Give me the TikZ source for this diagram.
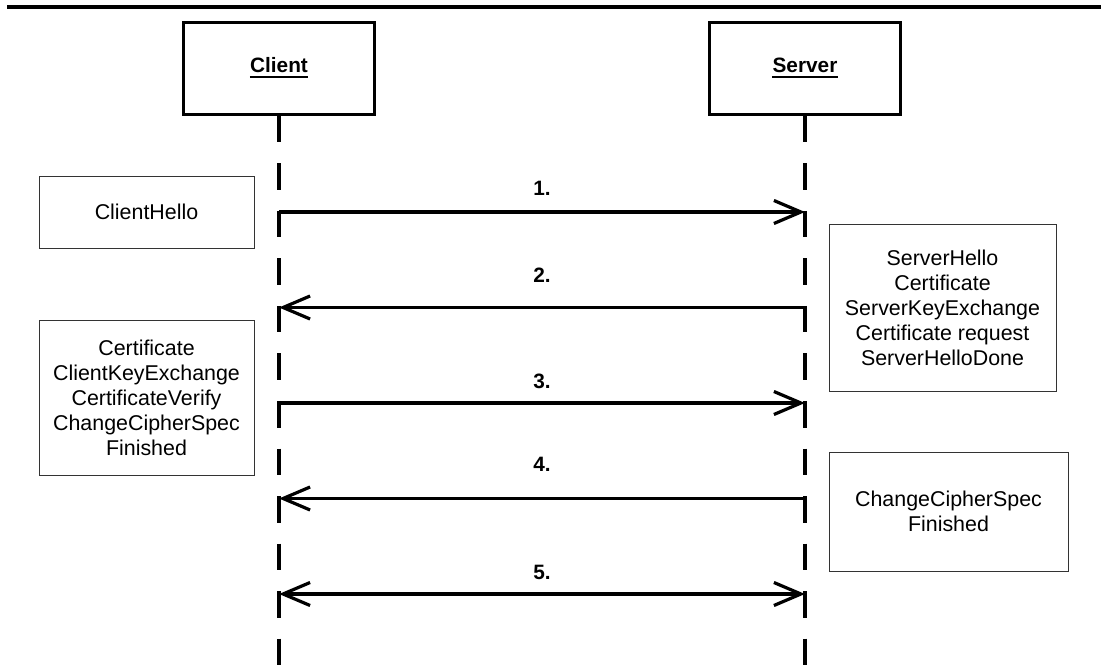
\documentclass[tikz,border=0pt]{standalone}
\usepackage{fontspec}
\setmainfont{Liberation Sans}
\usetikzlibrary{arrows.meta}
\begin{document}
\begin{tikzpicture}[x=1pt,y=-1pt,
  actor/.style={draw,line width=3pt,minimum width=191pt,minimum height=92pt,inner sep=0pt},
  actorname/.style={anchor=base,font=\fontsize{20.8}{24}\selectfont\bfseries,inner sep=0pt},
  msgbox/.style={draw=black!80,line width=0.9pt,inner sep=0pt,align=center,
    font=\fontsize{21.4}{25}\selectfont},
  lifeline/.style={line width=3.2pt,dash pattern=on 26.5pt off 21pt},
  msg/.style={line width=3.2pt,-{Straight Barb[length=27pt,width=23pt,line width=3.2pt]}},
  msgboth/.style={line width=3.2pt,{Straight Barb[length=27pt,width=23pt,line width=3.2pt]}-{Straight Barb[length=27pt,width=23pt,line width=3.2pt]}},
  step label/.style={font=\fontsize{20.8}{24}\selectfont\bfseries,inner sep=0pt}]
\useasboundingbox (0,0) rectangle (1101,668);

% header rule
\coordinate (ruleL) at (7,7);
\coordinate (ruleR) at (1101,7);
\draw[line width=4pt] (ruleL) -- (ruleR);

% participants
\node[actor] (client) at (279,68.5) {};
\node[actor] (server) at (805,68.5) {};
\node[actorname] (clientname) at (279,73) {Client};
\node[actorname] (servername) at (805,73) {Server};
\draw[line width=2pt] ([yshift=-4pt]clientname.base west) -- ([yshift=-4pt]clientname.base east);
\draw[line width=2pt] ([yshift=-4pt]servername.base west) -- ([yshift=-4pt]servername.base east);

% lifelines
\coordinate (clientend) at (279,668);
\coordinate (serverend) at (805,668);
\draw[lifeline] (client.south) -- (clientend);
\draw[lifeline] (server.south) -- (serverend);

% message endpoints on the lifelines
\foreach \i/\y in {1/212,2/307.5,3/403,4/498.5,5/594}{
  \coordinate (c\i) at (279,\y);
  \coordinate (s\i) at (805,\y);
}

% messages
\draw[msg] (c1) -- (s1);
\draw[msg] (s2) -- (c2);
\draw[msg] (c3) -- (s3);
\draw[msg] (s4) -- (c4);
\draw[msgboth] (c5) -- (s5);

\node[step label] (l1) at (542,188) {1.};
\node[step label] (l2) at (542,275) {2.};
\node[step label] (l3) at (542,381) {3.};
\node[step label] (l4) at (542,464) {4.};
\node[step label] (l5) at (542,572) {5.};

% handshake message groups
\node[msgbox,minimum width=215pt,minimum height=72pt] (hello) at (146.5,212) {ClientHello};
\node[msgbox,minimum width=215pt,minimum height=155pt] (clientfin) at (146.5,397.5)
  {Certificate\\ClientKeyExchange\\CertificateVerify\\ChangeCipherSpec\\Finished};
\node[msgbox,minimum width=227pt,minimum height=167pt] (serverhello) at (942.5,307.5)
  {ServerHello\\Certificate\\ServerKeyExchange\\Certificate request\\ServerHelloDone};
\node[msgbox,minimum width=239pt,minimum height=119pt] (serverfin) at (948.5,511.5)
  {ChangeCipherSpec\\Finished};
\end{tikzpicture}
\end{document}
